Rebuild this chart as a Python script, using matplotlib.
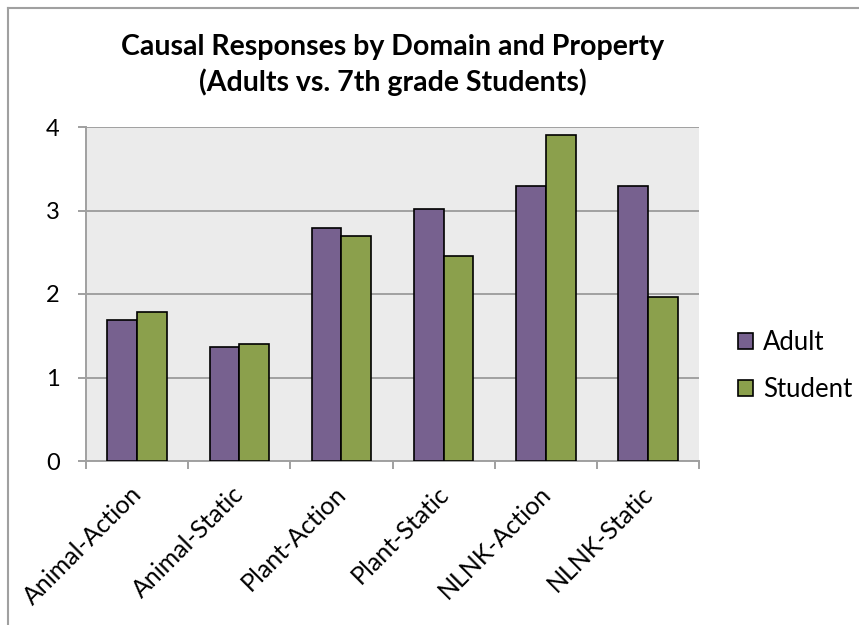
import matplotlib.pyplot as plt
import matplotlib.transforms as mtransforms
from matplotlib.lines import Line2D
import numpy as np

categories = ["Animal-Action", "Animal-Static", "Plant-Action",
              "Plant-Static", "NLNK-Action", "NLNK-Static"]
adult = [1.69, 1.36, 2.79, 3.02, 3.29, 3.29]
student = [1.78, 1.40, 2.69, 2.46, 3.90, 1.96]

plt.rcParams['font.family'] = ['Lato', 'DejaVu Sans']

fig = plt.figure(figsize=(8.59, 6.25), dpi=100)
ax = fig.add_axes([0.100, 0.2624, 0.714, 0.5344])
ax.set_facecolor('#EBEBEB')

x = np.arange(len(categories))
w = 0.29
ax.bar(x - w / 2, adult, w, color='#77618F', edgecolor='black', linewidth=1.2,
       label='Adult', zorder=3)
ax.bar(x + w / 2, student, w, color='#8BA04C', edgecolor='black', linewidth=1.2,
       label='Student', zorder=3)

ax.set_xlim(-0.5, len(categories) - 0.5)
ax.set_ylim(0, 4)
ax.set_yticks([0, 1, 2, 3, 4])
ax.yaxis.grid(True, color='#A0A0A0', linewidth=1.4, zorder=0)
ax.set_xticks(x)
ax.set_xticklabels(categories, rotation=45, ha='right', rotation_mode='anchor',
                   fontsize=18)
ax.tick_params(axis='x', length=0, pad=15)
shift = mtransforms.ScaledTranslation(-5 / 72, 0, fig.dpi_scale_trans)
for lbl in ax.get_xticklabels():
    lbl.set_transform(lbl.get_transform() + shift)
ax.set_xticks(np.arange(-0.5, len(categories)), minor=True)
ax.tick_params(axis='x', which='minor', length=6, color='#A0A0A0', width=1.4)
ax.tick_params(axis='y', length=6, color='#A0A0A0', width=1.4, labelsize=17, pad=13)

for s in ['top', 'right']:
    ax.spines[s].set_visible(False)
for s in ['left', 'bottom']:
    ax.spines[s].set_color('#A0A0A0')
    ax.spines[s].set_linewidth(1.4)

ax.set_title("Causal Responses by Domain and Property\n(Adults vs. 7th grade Students)",
             fontsize=20.5, fontweight='bold', pad=26, linespacing=1.38)

ax.legend(loc='center left', bbox_to_anchor=(1.025, 0.285), frameon=False,
          fontsize=18.5, handlelength=0.6, handleheight=0.6, labelspacing=0.85,
          handletextpad=0.4)

# outer chart frame (only top and left edges visible)
fig.add_artist(Line2D([8 / 859, 8 / 859], [0, 1 - 8 / 625], transform=fig.transFigure,
                      color='#A0A0A0', linewidth=1.5))
fig.add_artist(Line2D([8 / 859, 1], [1 - 8 / 625, 1 - 8 / 625], transform=fig.transFigure,
                      color='#A0A0A0', linewidth=1.5))

fig.savefig('out.png', dpi=100)
